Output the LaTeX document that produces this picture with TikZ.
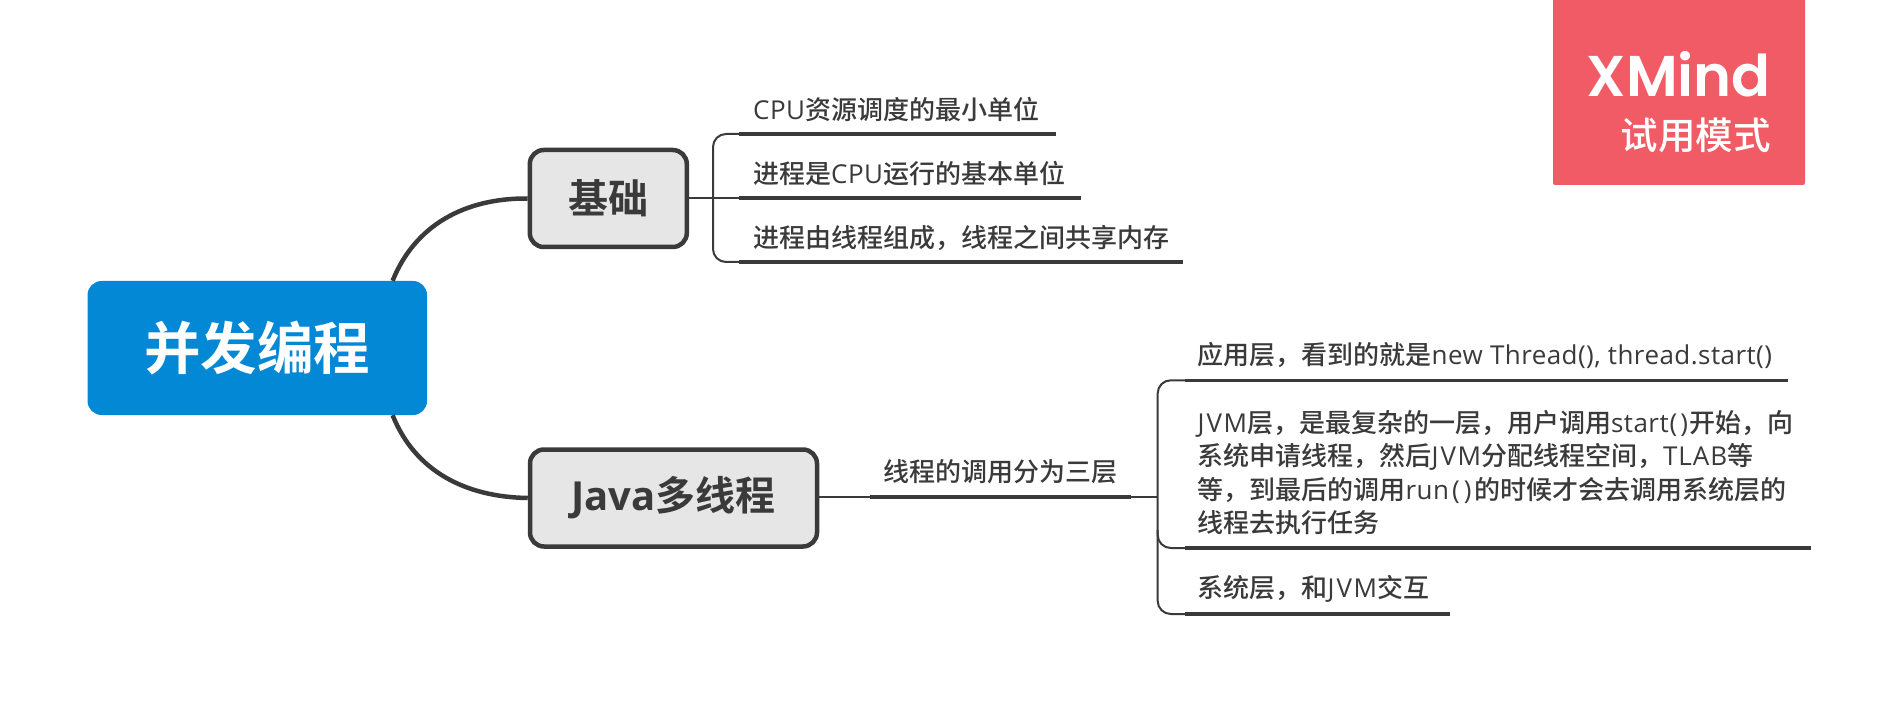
\documentclass[tikz,border=0pt]{standalone}
\usepackage{fontspec}
\setmainfont{Noto Sans CJK SC Medium}[BoldFont={Noto Sans CJK SC Bold}]
\newfontfamily\markfont{Poppins SemiBold}
\newfontfamily\latinfont{Open Sans}
\newfontfamily\latintext{Open Sans}[LetterSpace=1.7]
\newcommand{\lat}[1]{{\latintext #1}}
\definecolor{ink}{HTML}{3A3A3A}
\definecolor{rootblue}{HTML}{0288D4}
\definecolor{topicgrey}{HTML}{E6E6E6}
\definecolor{markred}{HTML}{F15B65}
\tikzset{
  rootbox/.style={fill=rootblue,rounded corners=14pt,minimum width=339.5pt,minimum height=134pt,inner sep=0pt,text=white,font=\fontsize{56.5}{60}\selectfont\bfseries},
  topicbox/.style={draw=ink,line width=4.5pt,fill=topicgrey,rounded corners=14pt,minimum height=97pt,inner sep=0pt,text=ink,font=\fontsize{40}{44}\selectfont\bfseries},
  leaf/.style={anchor=west,inner sep=0pt,text=ink,align=left,font=\fontsize{26}{33.5}\selectfont},
  mainline/.style={draw=ink,line width=4.5pt},
  thinline/.style={draw=ink,line width=2pt},
  underln/.style={draw=ink,line width=3.2pt}
}
\begin{document}
\begin{tikzpicture}[x=1pt,y=-1pt]
\useasboundingbox (0,0) rectangle (1899,703);
% watermark
\fill[markred,rounded corners=2pt] (1553,-6) rectangle (1805,185);
\node[anchor=base east,inner sep=0pt,text=white,font=\markfont\fontsize{57.5}{60}\selectfont] (markA) at (1771,97) {XMind};
\node[anchor=east,inner sep=0pt,text=white,font=\fontsize{37.5}{40}\selectfont] (markB) at (1771,135) {试用模式};
% nodes
\node[rootbox] (root) at (257.3,348) {并发编程};
\node[topicbox,minimum width=157pt] (basic) at (608.3,198.5) {基础};
\node[topicbox,minimum width=287pt] (java) at (673.5,498) {{\latinfont\bfseries Java}多线程};
% main curves
\draw[mainline] ([xshift=135.3pt]root.north) .. controls (415,225) and (465,198) .. (basic.west);
\draw[mainline] ([xshift=135.3pt]root.south) .. controls (415,471) and (465,497) .. (java.west);
% basic leaves
\node[leaf] (a1) at (753,110) {\lat{CPU}资源调度的最小单位};
\node[leaf] (a2) at (753,174) {进程是\lat{CPU}运行的基本单位};
\node[leaf] (a3) at (753,238) {进程由线程组成，线程之间共享内存};
\coordinate (a1s) at (739,134); \coordinate (a1e) at (1056,134);
\coordinate (a2s) at (739,198); \coordinate (a2e) at (1081,198);
\coordinate (a3s) at (739,262); \coordinate (a3e) at (1183,262);
\draw[thinline] (basic.east |- a2s) -- (a2s);
\draw[thinline,rounded corners=13pt] (a1s) -- (713,134) -- (713,262) -- (a3s);
\draw[underln] (a1s) -- (a1e);
\draw[underln] (a2s) -- (a2e);
\draw[underln] (a3s) -- (a3e);
% java mid
\node[leaf] (m) at (883,472) {线程的调用分为三层};
\coordinate (ms) at (870,497); \coordinate (me) at (1131,497);
\draw[thinline] (java.east |- ms) -- (ms);
\draw[underln] (ms) -- (me);
\coordinate (bj) at (1157.7,497);
\draw[thinline] (me) -- (bj);
% java leaves
\node[leaf] (b1) at (1197.5,355) {应用层，看到的就是\lat{new Thread(), thread.start()}};
\node[leaf] (b2) at (1197.5,472.5) {\lat{J\kern2pt V\kern1.5pt M}层，是最复杂的一层，用户调用\lat{start\kern1pt(\kern3pt)\kern1pt}开始，向\\系统申请线程，然后\lat{J\kern2pt V\kern1.5pt M}分配线程空间，\lat{T\kern1pt L\kern1pt A\kern1pt B}等\\等，到最后的调用\lat{run\kern3pt(\kern4pt)\kern3pt}的时候才会去调用系统层的\\线程去执行任务};
\node[leaf] (b3) at (1197.5,589) {系统层，和\lat{J\kern2pt V\kern1.5pt M}交互};
\coordinate (b1s) at (1185,380.3); \coordinate (b1e) at (1788,380.3);
\coordinate (b2s) at (1185,548); \coordinate (b2e) at (1811,548);
\coordinate (b3s) at (1185,614); \coordinate (b3e) at (1450,614);
\draw[thinline,rounded corners=13pt] (b1s) -- (1157.7,380.3) -- (1157.7,548) -- (b2s);
\draw[thinline,rounded corners=13pt] (1157.7,530) -- (1157.7,614) -- (b3s);
\draw[underln] (b1s) -- (b1e);
\draw[underln] (b2s) -- (b2e);
\draw[underln] (b3s) -- (b3e);
\end{tikzpicture}
\end{document}
